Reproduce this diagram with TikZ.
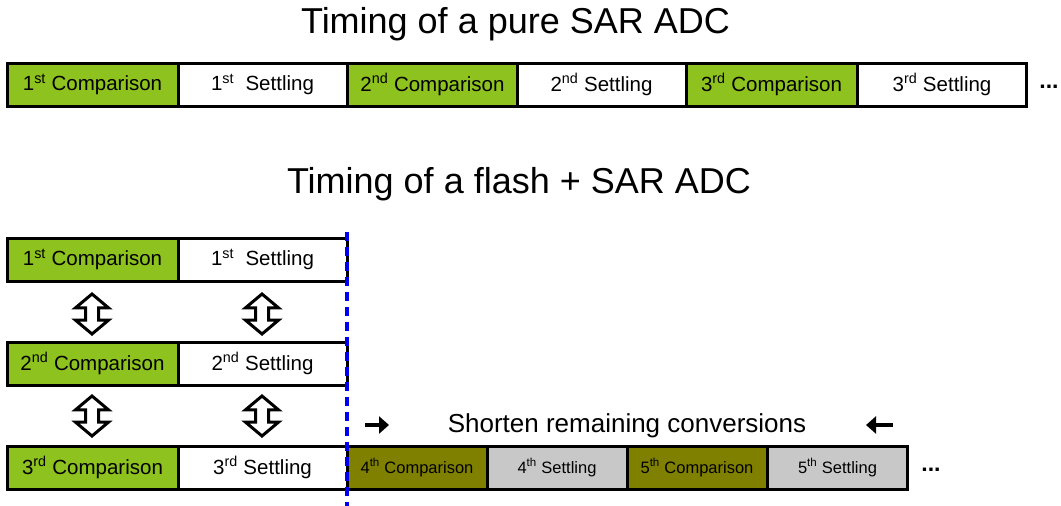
\documentclass[tikz,border=0pt]{standalone}
\usepackage{fontspec}
\setmainfont{Liberation Sans}
\usetikzlibrary{shapes.arrows,arrows.meta}
\definecolor{cmpgreen}{HTML}{8DC21F}
\definecolor{cmpolive}{HTML}{7F7F00}
\definecolor{setgray}{HTML}{C8C8C8}
\definecolor{cutblue}{HTML}{0000F0}
\newcommand{\sx}[1]{\textsuperscript{#1}}
\begin{document}
\begin{tikzpicture}[x=1pt,y=-1pt,
  box/.style={draw=black,line width=3pt,minimum height=43pt,inner sep=0pt,
    font=\fontsize{20.5}{24}\selectfont},
  cmp/.style={box,fill=cmpgreen,minimum width=171pt},
  stl/.style={box,fill=white,minimum width=169pt},
  cmpb/.style={box,fill=cmpolive,minimum width=140pt,font=\fontsize{16.5}{20}\selectfont},
  stlb/.style={box,fill=setgray,minimum width=140pt,font=\fontsize{16.5}{20}\selectfont},
  title/.style={font=\fontsize{36}{42}\selectfont,anchor=base,inner sep=0pt},
  dbl/.style={draw=black,fill=white,line width=3pt,double arrow,shape border rotate=90,
    minimum height=40pt,inner sep=5pt,double arrow head extend=10pt,
    double arrow tip angle=100},
  dots/.style={font=\bfseries\fontsize{23}{26}\selectfont,inner sep=0pt,anchor=base},
  small/.style={line width=4pt,-{Triangle[length=10pt,width=17pt]}}
]
\useasboundingbox (0,0) rectangle (1061,506);
\fill[white] (0,0) rectangle (1061,506);

% titles
\node[title] (t1) at (515.5,33) {Timing of a pure SAR ADC};
\node[title] (t2) at (519,193) {Timing of a flash + SAR ADC};

% top row
\node[cmp] (a1) at (92.5,84.5) {1\sx{st} Comparison};
\node[stl] (a2) at (262.5,84.5) {1\sx{st}\ \ Settling};
\node[cmp] (a3) at (432.5,84.5) {2\sx{nd} Comparison};
\node[stl] (a4) at (601.5,84.5) {2\sx{nd} Settling};
\node[cmp] (a5) at (771.5,84.5) {3\sx{rd} Comparison};
\node[stl] (a6) at (942,84.5) {3\sx{rd} Settling};
\node[dots] (d1) at (1049,88) {...};

% bottom rows
\node[cmp] (b1) at (92.5,259.5) {1\sx{st} Comparison};
\node[stl] (b2) at (262.5,259.5) {1\sx{st}\ \ Settling};
\node[cmp] (c1) at (92.5,363.5) {2\sx{nd} Comparison};
\node[stl] (c2) at (262.5,363.5) {2\sx{nd} Settling};
\node[cmp] (e1) at (92.5,467.5) {3\sx{rd} Comparison};
\node[stl] (e2) at (262.5,467.5) {3\sx{rd} Settling};
\node[cmpb] (e3) at (417,467.5) {4\sx{th} Comparison};
\node[stlb] (e4) at (557,467.5) {4\sx{th} Settling};
\node[cmpb] (e5) at (697,467.5) {5\sx{th} Comparison};
\node[stlb] (e6) at (837.5,467.5) {5\sx{th} Settling};
\node[dots] (d2) at (931,471) {...};

% double arrows
\node[dbl] (u1) at (92,314) {};
\node[dbl] (u2) at (262,314) {};
\node[dbl] (u3) at (92,416) {};
\node[dbl] (u4) at (262,416) {};

% cut line
\coordinate (cutTop) at (347,232);
\coordinate (cutBot) at (347,506);
\draw[cutblue,line width=4pt,dash pattern=on 9pt off 6pt] (cutTop) -- (cutBot);

% shorten label
\node[font=\fontsize{26}{30}\selectfont,inner sep=0pt] (sh) at (627,426) {Shorten remaining conversions};
\coordinate (ra) at (365,425);
\coordinate (rb) at (389,425);
\coordinate (la) at (893,425);
\coordinate (lb) at (866,425);
\draw[small] (ra) -- (rb);
\draw[small] (la) -- (lb);
\end{tikzpicture}
\end{document}
